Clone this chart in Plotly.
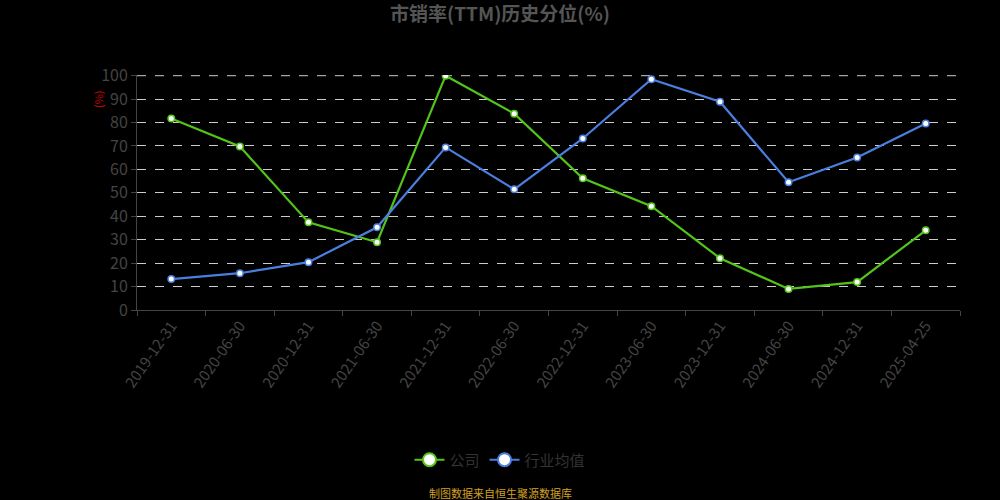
import plotly.graph_objects as go

categories = ["2019-12-31", "2020-06-30", "2020-12-31", "2021-06-30", "2021-12-31", "2022-06-30",
              "2022-12-31", "2023-06-30", "2023-12-31", "2024-06-30", "2024-12-31", "2025-04-25"]
company = [81.7, 69.8, 37.4, 28.9, 100.0, 83.8, 56.2, 44.3, 22.1, 9.0, 11.9, 34.0]
industry = [13.2, 15.7, 20.4, 35.3, 69.4, 51.5, 73.2, 98.5, 88.9, 54.5, 65.1, 79.6]
y_ticks = [0, 10, 20, 30, 40, 50, 60, 70, 80, 90, 100]

GREEN = "#52c41a"
BLUE = "#4a7fe0"
FONT = "Noto Sans CJK SC, Noto Sans, sans-serif"
CENTER_X = (500 - 137) / 823  # figure centre in plot-area fraction

fig = go.Figure()
for name, vals, col in [("公司", company, GREEN), ("行业均值", industry, BLUE)]:
    fig.add_trace(go.Scatter(
        x=categories, y=vals, name=name, mode="lines+markers", showlegend=False,
        line=dict(color=col, width=2.2),
        marker=dict(size=6.5, color="white", line=dict(color=col, width=1.5)),
    ))
    # legend entry with larger icon
    fig.add_trace(go.Scatter(
        x=[None], y=[None], name=name, mode="lines+markers", showlegend=True,
        line=dict(color=col, width=2),
        marker=dict(size=13, color="white", line=dict(color=col, width=2)),
    ))

fig.add_shape(type="line", xref="paper", yref="y", x0=0, x1=1, y0=100, y1=100,
              line=dict(color="#cccccc", width=1, dash="dash"), layer="below")

fig.update_layout(
    width=1000, height=500,
    paper_bgcolor="#000000", plot_bgcolor="#000000",
    margin=dict(l=137, r=40, t=75, b=190),
    font=dict(family=FONT, color="#444444"),
    title=dict(text="<b>市销率(TTM)历史分位(%)</b>", x=0.5, xanchor="center",
               y=0.972, yanchor="middle", font=dict(size=19, color="#555555")),
    showlegend=True,
    legend=dict(orientation="h", x=CENTER_X, xanchor="center", y=-0.638, yanchor="middle",
                font=dict(size=15, color="#333333"), itemwidth=30, itemsizing="trace"),
    xaxis=dict(
        type="category", range=[-0.5, len(categories) - 0.5],
        showline=True, linecolor="#444444", linewidth=1,
        ticks="outside", ticklen=5, tickcolor="#444444",
        tickson="boundaries", showgrid=False, zeroline=False,
        tickangle=-55, tickfont=dict(size=15, color="#444444"),
    ),
    yaxis=dict(
        range=[0, 100.3], tickvals=y_ticks,
        showline=True, linecolor="#444444", linewidth=1,
        ticks="outside", ticklen=5, tickcolor="#444444",
        showgrid=True, gridcolor="#cccccc", griddash="dash", gridwidth=1,
        zeroline=False, tickfont=dict(size=16, color="#444444"),
    ),
    annotations=[
        dict(text="(%)", xref="paper", yref="paper", x=-0.048, y=0.9, textangle=-90,
             showarrow=False, font=dict(size=11, color="#cc0000"), xanchor="center", yanchor="middle"),
        dict(text="制图数据来自恒生聚源数据库", xref="paper", yref="paper", x=CENTER_X, y=-0.779,
             showarrow=False, font=dict(size=11, color="#d4a020"), xanchor="center", yanchor="middle"),
    ],
)
fig.write_html("out.html", config={"displayModeBar": False},
               post_script="document.body.style.margin='0';document.body.style.background='#000';")
